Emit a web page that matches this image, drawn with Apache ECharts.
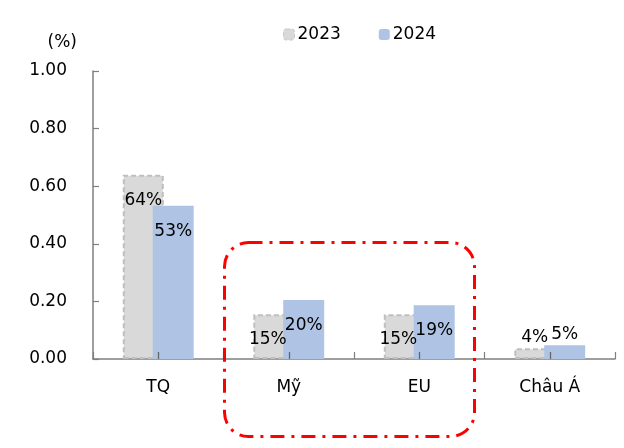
<!DOCTYPE html>
<html>
<head>
<meta charset="utf-8">
<script src="https://cdn.jsdelivr.net/npm/echarts@6/dist/echarts.min.js"></script>
<style>
html,body{margin:0;padding:0;background:#fff;}
#c{width:624px;height:448px;}
</style>
</head>
<body>
<div id="c"></div>
<script>
const categories = ['TQ', 'Mỹ', 'EU', 'Châu Á'];
const values2023 = [0.64, 0.155, 0.155, 0.037];
const values2024 = [0.532, 0.205, 0.187, 0.048];
const labels2023 = ['64%', '15%', '15%', '4%'];
const labels2024 = ['53%', '20%', '19%', '5%'];
const yTicks = [0, 0.2, 0.4, 0.6, 0.8, 1.0];

const FONT = 'DejaVu Sans';
const FS = 17;
const GRID = {left: 93, right: 9, top: 71, bottom: 89};

function buildData(vals, labels, isFirst) {
  return vals.map((v, i) => {
    const small = v < 0.1;
    return {
      value: v,
      label: {
        show: true,
        formatter: labels[i],
        position: small ? 'top' : 'insideTop',
        distance: small ? 2 : 17,
        offset: (isFirst && v < 0.3 && !small) ? [-6, 0] : [0, 0],
        color: '#000',
        fontFamily: FONT,
        fontSize: FS
      }
    };
  });
}

const chart = echarts.init(document.getElementById('c'), null, {renderer: 'canvas'});
chart.setOption({
  animation: false,
  backgroundColor: '#fff',
  textStyle: {fontFamily: FONT},
  grid: Object.assign({containLabel: false}, GRID),
  legend: {
    top: 21,
    left: 278,
    itemWidth: 11,
    itemHeight: 11,
    itemGap: 38,
    textStyle: {fontFamily: FONT, fontSize: FS, color: '#000', padding: [0, 0, 0, -2]},
    data: [
      {name: '2023', itemStyle: {color: '#d9d9d9', borderColor: '#c8c8c8', borderWidth: 1, borderType: 'dashed'}},
      {name: '2024', itemStyle: {color: '#afc3e5', borderWidth: 0}}
    ]
  },
  xAxis: {
    type: 'category',
    data: categories,
    position: 'bottom',
    boundaryGap: true,
    axisLine: {lineStyle: {color: '#7f7f7f', width: 1.5}},
    axisTick: {show: true, inside: true, length: 7, interval: 0, alignWithLabel: false, lineStyle: {color: '#7f7f7f', width: 1.2}},
    axisLabel: {color: '#000', fontFamily: FONT, fontSize: FS, margin: 20, interval: 0}
  },
  yAxis: {
    type: 'value',
    min: yTicks[0],
    max: yTicks[yTicks.length - 1],
    interval: 0.2,
    name: '(%)',
    nameLocation: 'end',
    nameGap: 20,
    nameTextStyle: {color: '#000', fontFamily: FONT, fontSize: FS, align: 'right', padding: [0, 16, 0, 0]},
    splitLine: {show: false},
    axisLine: {show: true, lineStyle: {color: '#7f7f7f', width: 1.5}},
    axisTick: {show: true, inside: true, length: 6, lineStyle: {color: '#7f7f7f', width: 1.2}},
    axisLabel: {color: '#000', fontFamily: FONT, fontSize: FS, margin: 26, formatter: v => v.toFixed(2)}
  },
  series: [
    {
      name: '2023',
      type: 'bar',
      barWidth: 41,
      barGap: '-27%',
      itemStyle: {color: '#d9d9d9', borderColor: '#bfbfbf', borderWidth: 2, borderType: [5, 3]},
      data: buildData(values2023, labels2023, true)
    },
    {
      name: '2024',
      type: 'bar',
      barWidth: 41,
      itemStyle: {color: '#afc3e5'},
      data: buildData(values2024, labels2024, false)
    }
  ]
});

// mid-category ticks on the x axis, placed through the chart's own scales
const y0 = chart.convertToPixel({yAxisIndex: 0}, 0);
const midTicks = categories.map(c => {
  const px = Math.round(chart.convertToPixel({xAxisIndex: 0}, c)) + 0.5;
  return {
    type: 'line',
    shape: {x1: px, y1: y0, x2: px, y2: y0 - 7},
    style: {stroke: '#666666', lineWidth: 1.3},
    z: 50
  };
});

chart.setOption({
  graphic: midTicks.concat([
    {
      type: 'rect',
      left: 222,
      top: 240,
      shape: {width: 250, height: 194, r: 24},
      style: {fill: 'none', stroke: '#ff0000', lineWidth: 3, lineDash: [14, 7, 3, 7]},
      z: 100
    }
  ])
});
</script>
</body>
</html>
